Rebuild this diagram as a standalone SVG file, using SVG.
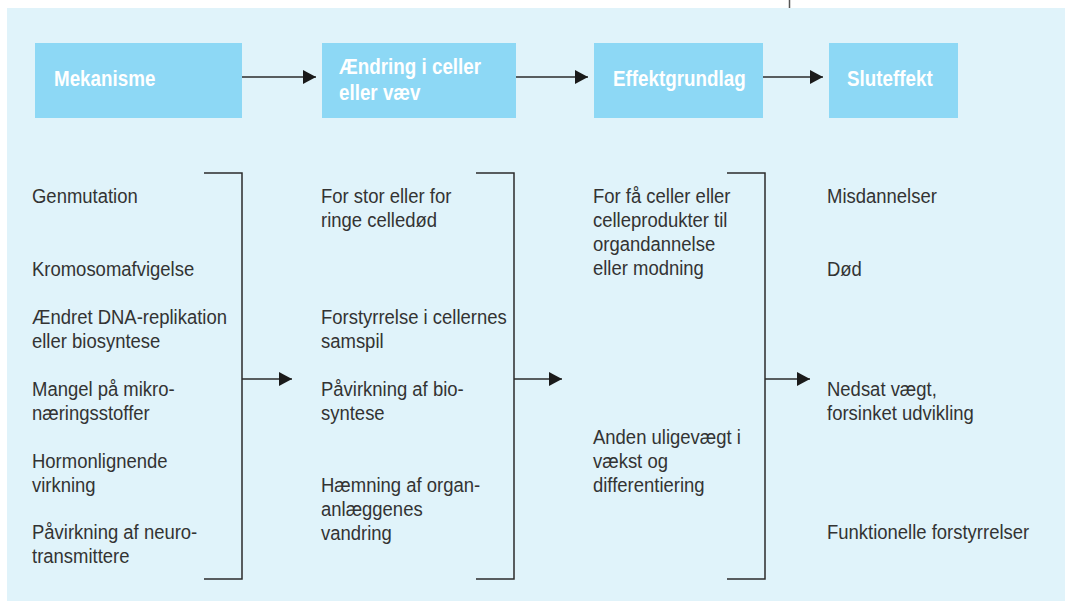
<svg xmlns="http://www.w3.org/2000/svg" width="1065" height="602" viewBox="0 0 1065 602">
<defs>
<style>
.hdr{fill:#8dd8f5}
.ht{font-family:"Liberation Sans",Arial,sans-serif;font-weight:bold;font-size:22px;fill:#ffffff}
.bt{font-family:"Liberation Sans",Arial,sans-serif;font-size:21px;fill:#333333}
.ln{stroke:#2b2b2b;stroke-width:1.5;fill:none}
</style>
<marker id="ah" markerUnits="userSpaceOnUse" markerWidth="14" markerHeight="14" refX="13" refY="7" orient="auto">
<path d="M0,0 L13,7 L0,14 z" fill="#1a1a1a"/>
</marker>
</defs>
<rect x="0" y="0" width="1065" height="602" fill="#ffffff"/>
<rect x="7" y="8" width="1058" height="593" fill="#e0f3fa"/>
<line x1="789.5" y1="0" x2="789.5" y2="8" stroke="#555" stroke-width="1.5"/>

<g id="node-mekanisme">
<rect class="hdr" x="35" y="43" width="207" height="75"/>
<text class="ht" transform="translate(54 86) scale(0.855 1)">Mekanisme</text>
</g>
<g id="node-aendring">
<rect class="hdr" x="322" y="43" width="194" height="75"/>
<text class="ht" transform="translate(339 74) scale(0.855 1)">Ændring i celler</text>
<text class="ht" transform="translate(339 100) scale(0.855 1)">eller væv</text>
</g>
<g id="node-effektgrundlag">
<rect class="hdr" x="594" y="43" width="169" height="75"/>
<text class="ht" transform="translate(613 86) scale(0.855 1)">Effektgrundlag</text>
</g>
<g id="node-sluteffekt">
<rect class="hdr" x="829" y="43" width="129" height="75"/>
<text class="ht" transform="translate(847 86) scale(0.855 1)">Sluteffekt</text>
</g>

<g id="col-mekanisme" transform="translate(32 0) scale(0.88 1)">
<text class="bt" x="0" y="203">Genmutation</text>
<text class="bt" x="0" y="276">Kromosomafvigelse</text>
<text class="bt" x="0" y="324">Ændret DNA-replikation</text>
<text class="bt" x="0" y="348">eller biosyntese</text>
<text class="bt" x="0" y="396">Mangel på mikro-</text>
<text class="bt" x="0" y="420">næringsstoffer</text>
<text class="bt" x="0" y="468">Hormonlignende</text>
<text class="bt" x="0" y="492">virkning</text>
<text class="bt" x="0" y="539">Påvirkning af neuro-</text>
<text class="bt" x="0" y="563">transmittere</text>
</g>
<g id="col-aendring" transform="translate(321 0) scale(0.88 1)">
<text class="bt" x="0" y="203">For stor eller for</text>
<text class="bt" x="0" y="227">ringe celledød</text>
<text class="bt" x="0" y="324">Forstyrrelse i cellernes</text>
<text class="bt" x="0" y="348">samspil</text>
<text class="bt" x="0" y="396">Påvirkning af bio-</text>
<text class="bt" x="0" y="420">syntese</text>
<text class="bt" x="0" y="492">Hæmning af organ-</text>
<text class="bt" x="0" y="516">anlæggenes</text>
<text class="bt" x="0" y="540">vandring</text>
</g>
<g id="col-effektgrundlag" transform="translate(593 0) scale(0.88 1)">
<text class="bt" x="0" y="203">For få celler eller</text>
<text class="bt" x="0" y="227">celleprodukter til</text>
<text class="bt" x="0" y="251">organdannelse</text>
<text class="bt" x="0" y="275">eller modning</text>
<text class="bt" x="0" y="444">Anden uligevægt i</text>
<text class="bt" x="0" y="468">vækst og</text>
<text class="bt" x="0" y="492">differentiering</text>
</g>
<g id="col-sluteffekt" transform="translate(827 0) scale(0.88 1)">
<text class="bt" x="0" y="203">Misdannelser</text>
<text class="bt" x="0" y="276">Død</text>
<text class="bt" x="0" y="396">Nedsat vægt,</text>
<text class="bt" x="0" y="420">forsinket udvikling</text>
<text class="bt" x="0" y="539">Funktionelle forstyrrelser</text>
</g>

<g id="connectors">
<line class="ln" x1="242" y1="77" x2="316" y2="77" marker-end="url(#ah)"/>
<line class="ln" x1="516" y1="77" x2="588" y2="77" marker-end="url(#ah)"/>
<line class="ln" x1="763" y1="77" x2="823" y2="77" marker-end="url(#ah)"/>
<polyline class="ln" points="204,173 242,173 242,579 204,579"/>
<line class="ln" x1="242" y1="379" x2="292" y2="379" marker-end="url(#ah)"/>
<polyline class="ln" points="476,173 514,173 514,579 476,579"/>
<line class="ln" x1="514" y1="379" x2="562" y2="379" marker-end="url(#ah)"/>
<polyline class="ln" points="727,173 765,173 765,579 727,579"/>
<line class="ln" x1="765" y1="379" x2="810" y2="379" marker-end="url(#ah)"/>
</g>
</svg>
